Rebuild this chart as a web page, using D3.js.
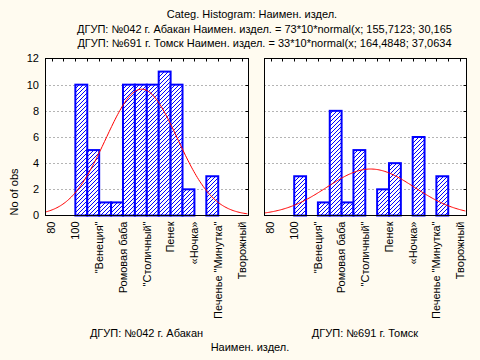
<!DOCTYPE html>
<html>
<head>
<meta charset="utf-8">
<script src="https://cdn.jsdelivr.net/npm/d3@7"></script>
<style>
  body { margin: 0; background: #fffbf0; }
  svg { display: block; }
  text { font-family: "Liberation Sans", Arial, sans-serif; font-size: 11px; fill: #000; }
</style>
</head>
<body>
<svg id="chart"></svg>
<script>
// x axis: numeric codes with text labels
const tickValues = [80, 100, 120, 140, 160, 180, 200, 220, 240];
const tickLabels = ["80", "100", "\"Венеция\"", "Ромовая баба", "\"Столичный\"", "Пенек", "«Ночка»", "Печенье \"Минутка\"", "Творожный"];
const yTicks = [0, 2, 4, 6, 8, 10, 12];
const binWidth = 10;

// Абакан
const abakanBins = [100, 110, 120, 130, 140, 150, 160, 170, 180, 190, 210];
const abakanCounts = [10, 5, 1, 1, 10, 10, 10, 11, 10, 2, 3];
const abakanFit = [73, 155.7123, 30.165];   // n, mean, sd

// Томск
const tomskBins = [100, 120, 130, 140, 150, 170, 180, 200, 220];
const tomskCounts = [3, 1, 8, 1, 5, 2, 4, 6, 3];
const tomskFit = [33, 164.4848, 37.0634];

const titleLines = [
  "Categ. Histogram: Наимен. издел.",
  "ДГУП: №042 г. Абакан Наимен. издел. = 73*10*normal(x; 155,7123; 30,165",
  "ДГУП: №691 г. Томск Наимен. издел. = 33*10*normal(x; 164,4848; 37,0634"
];

const width = 480, height = 360;
const plotTop = 58.5, plotBottom = 215.5;

const svg = d3.select("#chart").attr("width", width).attr("height", height);

const defs = svg.append("defs");
const pat = defs.append("pattern")
  .attr("id", "hatch")
  .attr("patternUnits", "userSpaceOnUse")
  .attr("width", 4).attr("height", 4);
pat.append("rect").attr("width", 4).attr("height", 4).attr("fill", "#fff");
pat.append("path")
  .attr("d", "M-1,1 l2,-2 M0,4 l4,-4 M3,5 l2,-2")
  .attr("stroke", "#0000ff")
  .attr("stroke-width", 1)
  .attr("shape-rendering", "crispEdges");

const y = d3.scaleLinear().domain([0, 12]).range([plotBottom, plotTop]);

function drawPanel({ x0, x1, bins, counts, fit, caption, showY, id }) {
  const x = d3.scaleLinear().domain([74.5, 245]).range([x0, x1]);
  const g = svg.append("g");

  g.append("rect")
    .attr("x", x0).attr("y", plotTop)
    .attr("width", x1 - x0).attr("height", plotBottom - plotTop)
    .attr("fill", "#fff");

  // dotted grid
  g.selectAll(".grid")
    .data(yTicks.filter(v => v > 0 && v < 12))
    .enter().append("line")
    .attr("x1", x0).attr("x2", x1)
    .attr("y1", d => Math.round(y(d)) + 0.5).attr("y2", d => Math.round(y(d)) + 0.5)
    .attr("stroke", "#b4b4b4")
    .attr("stroke-dasharray", "2,2");

  // bars
  g.selectAll(".bar")
    .data(bins.map((b, i) => ({ b, c: counts[i] })))
    .enter().append("rect")
    .attr("x", d => x(d.b))
    .attr("y", d => y(d.c))
    .attr("width", d => x(d.b + binWidth) - x(d.b))
    .attr("height", d => y(0) - y(d.c))
    .attr("fill", "url(#hatch)")
    .attr("stroke", "#0000ff")
    .attr("stroke-width", 2);

  // fitted normal curve
  const [n, mu, sd] = fit;
  const xs = d3.range(74.5, 245.01, 1);
  const dens = v => n * binWidth * Math.exp(-0.5 * ((v - mu) / sd) ** 2) / (sd * Math.sqrt(2 * Math.PI));
  defs.append("clipPath").attr("id", "clip" + id)
    .append("rect").attr("x", x0).attr("y", plotTop).attr("width", x1 - x0).attr("height", plotBottom - plotTop);
  g.append("path")
    .datum(xs)
    .attr("clip-path", `url(#clip${id})`)
    .attr("fill", "none")
    .attr("stroke", "#ff0000")
    .attr("stroke-width", 1)
    .attr("d", d3.line().x(d => x(d)).y(d => y(dens(d))));

  // frame
  g.append("rect")
    .attr("x", x0 + 0.5).attr("y", plotTop)
    .attr("width", x1 - x0).attr("height", plotBottom - plotTop)
    .attr("fill", "none")
    .attr("stroke", "#000");

  // top minor ticks (inside)
  g.selectAll(".tt")
    .data(d3.range(80, 241, 10))
    .enter().append("line")
    .attr("x1", d => Math.round(x(d)) + 0.5).attr("x2", d => Math.round(x(d)) + 0.5)
    .attr("y1", plotTop).attr("y2", plotTop + 3)
    .attr("stroke", "#000");

  // right ticks (inside)
  g.selectAll(".rt")
    .data(yTicks.filter(v => v > 0 && v < 12))
    .enter().append("line")
    .attr("x1", x1 + 0.5).attr("x2", x1 - 2.5)
    .attr("y1", d => Math.round(y(d)) + 0.5).attr("y2", d => Math.round(y(d)) + 0.5)
    .attr("stroke", "#000");

  // x labels, rotated
  g.selectAll(".xl")
    .data(tickValues)
    .enter().append("text")
    .attr("transform", d => `translate(${x(d)},${plotBottom + 6}) rotate(-90)`)
    .attr("text-anchor", "end")
    .attr("dy", "0.35em")
    .text((d, i) => tickLabels[i]);

  if (showY) {
    g.selectAll(".yl")
      .data(yTicks)
      .enter().append("text")
      .attr("x", x0 - 6)
      .attr("y", d => y(d))
      .attr("dy", "0.35em")
      .attr("text-anchor", "end")
      .text(d => d);
  }

  g.append("text")
    .attr("x", (x0 + x1) / 2)
    .attr("y", 337)
    .attr("text-anchor", "middle")
    .text(caption);
}

drawPanel({ x0: 45, x1: 248, bins: abakanBins, counts: abakanCounts, fit: abakanFit,
  caption: "ДГУП: №042 г. Абакан", showY: true, id: "a" });
drawPanel({ x0: 264, x1: 466, bins: tomskBins, counts: tomskCounts, fit: tomskFit,
  caption: "ДГУП: №691 г. Томск", showY: false, id: "t" });

// titles
svg.append("text").attr("x", 252).attr("y", 18).attr("text-anchor", "middle").text(titleLines[0]);
svg.append("text").attr("x", 264.5).attr("y", 33).attr("text-anchor", "middle").text(titleLines[1]);
svg.append("text").attr("x", 264.5).attr("y", 47).attr("text-anchor", "middle").text(titleLines[2]);

svg.append("text")
  .attr("transform", "translate(18,192) rotate(-90)")
  .attr("text-anchor", "middle")
  .text("No of obs");

svg.append("text").attr("x", 250).attr("y", 351).attr("text-anchor", "middle").text("Наимен. издел.");
</script>
</body>
</html>
